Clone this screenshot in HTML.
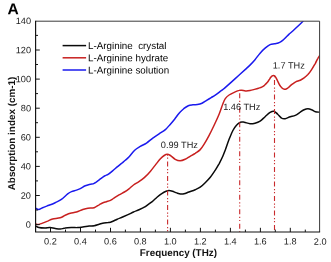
<!DOCTYPE html>
<html><head><meta charset="utf-8"><style>
html,body{margin:0;padding:0;background:#fff;}
svg{display:block;font-family:"Liberation Sans",sans-serif;will-change:transform;text-rendering:geometricPrecision;}
</style></head><body>
<svg width="331" height="262" viewBox="0 0 331 262">
<rect width="331" height="262" fill="#fff"/>
<defs><clipPath id="cp"><rect x="35.6" y="21.2" width="284" height="210.8"/></clipPath></defs>
<g fill="none" stroke-linejoin="round" stroke-linecap="butt" stroke-width="1.5" clip-path="url(#cp)">
<path stroke="#1a1aee" d="M35.5 208.2 C36.0 208.4 37.6 209.6 38.8 209.5 C40.0 209.4 40.9 208.4 42.6 207.7 C44.3 207.0 46.8 206.1 48.9 205.3 C51.0 204.5 53.1 203.7 55.2 202.7 C57.3 201.7 59.3 200.9 61.4 199.4 C63.5 197.9 66.0 195.2 67.7 193.9 C69.4 192.6 70.0 192.2 71.5 191.6 C73.0 191.0 75.0 190.6 76.5 190.1 C78.0 189.6 78.8 189.3 80.3 188.6 C81.8 187.9 83.6 186.5 85.3 185.8 C87.0 185.1 88.9 184.7 90.4 184.3 C91.9 183.9 92.7 184.1 94.2 183.3 C95.7 182.6 97.5 181.0 99.2 179.8 C100.9 178.6 103.0 176.9 104.5 176.0 C106.0 175.1 106.8 175.2 108.1 174.4 C109.4 173.6 111.1 172.2 112.6 170.9 C114.1 169.7 115.7 168.2 117.2 166.9 C118.7 165.6 120.4 164.4 121.7 163.3 C123.0 162.2 124.1 161.4 125.3 160.3 C126.5 159.2 127.3 158.7 128.9 157.0 C130.5 155.3 132.8 152.0 134.7 150.2 C136.6 148.4 138.3 147.6 140.3 146.4 C142.3 145.2 144.4 144.5 146.5 143.1 C148.6 141.7 150.7 139.6 152.8 138.1 C154.9 136.6 157.0 135.2 159.1 133.8 C161.2 132.4 163.6 131.2 165.4 129.6 C167.2 128.0 168.7 126.1 170.2 124.4 C171.7 122.7 173.1 121.1 174.6 119.2 C176.1 117.3 177.6 115.0 179.1 113.2 C180.6 111.5 182.2 110.0 183.7 108.7 C185.2 107.5 186.8 106.4 188.3 105.7 C189.8 105.0 191.4 105.0 192.9 104.8 C194.4 104.6 195.9 104.9 197.4 104.6 C198.9 104.3 200.5 103.9 202.0 103.2 C203.5 102.5 205.1 101.3 206.6 100.4 C208.1 99.5 209.7 98.5 211.2 97.6 C212.7 96.7 214.1 95.9 215.6 94.9 C217.1 93.9 218.7 92.6 220.0 91.6 C221.3 90.6 221.8 90.5 223.5 89.0 C225.2 87.5 228.1 85.1 230.5 82.9 C232.9 80.7 235.6 78.3 238.1 76.0 C240.6 73.7 243.7 70.9 245.7 69.1 C247.7 67.3 248.4 66.7 250.0 65.1 C251.6 63.5 253.3 61.7 255.0 59.7 C256.7 57.7 258.4 55.1 260.1 53.2 C261.8 51.3 263.4 49.6 265.1 48.2 C266.8 46.8 268.5 45.4 270.1 44.6 C271.7 43.9 273.1 44.0 274.5 43.7 C275.9 43.4 277.1 43.4 278.2 43.0 C279.3 42.6 280.1 42.2 281.0 41.6 C281.9 41.0 282.8 40.3 283.7 39.5 C284.6 38.7 285.5 37.7 286.4 36.8 C287.3 35.9 287.7 35.4 289.1 34.1 C290.5 32.9 292.8 31.0 294.6 29.3 C296.4 27.6 298.5 25.6 300.0 24.2 C301.5 22.8 302.8 21.5 303.4 21.0"/>
<path stroke="#c8201f" d="M35.5 223.6 C35.8 223.8 36.5 224.6 37.5 224.6 C38.5 224.6 39.6 224.2 41.3 223.6 C43.0 223.0 45.7 221.8 47.6 221.1 C49.5 220.3 50.5 219.6 52.6 219.1 C54.7 218.6 58.1 218.4 60.2 217.8 C62.3 217.2 63.5 216.1 65.2 215.3 C66.9 214.6 68.4 213.9 70.3 213.3 C72.2 212.8 74.4 212.6 76.5 212.0 C78.6 211.4 80.9 210.1 82.8 209.5 C84.7 208.9 86.0 208.5 87.9 208.2 C89.8 207.9 92.3 208.3 94.2 207.7 C96.1 207.1 97.8 205.6 99.2 204.8 C100.6 204.0 101.3 203.5 102.5 203.0 C103.7 202.5 105.1 202.1 106.3 201.7 C107.5 201.3 108.7 201.1 109.9 200.6 C111.1 200.1 112.1 199.3 113.6 198.4 C115.1 197.5 117.2 196.0 119.0 194.9 C120.8 193.8 122.7 193.0 124.4 192.0 C126.1 191.0 127.5 190.0 129.0 188.8 C130.5 187.6 131.8 186.2 133.5 185.0 C135.2 183.8 137.1 182.8 138.9 181.6 C140.7 180.4 142.4 179.3 144.3 177.6 C146.2 175.9 148.5 173.5 150.3 171.4 C152.1 169.3 153.6 167.2 155.3 165.1 C157.0 163.0 158.9 160.4 160.4 158.8 C161.9 157.2 163.1 156.2 164.2 155.5 C165.3 154.8 166.2 154.3 167.2 154.3 C168.2 154.3 169.1 154.7 170.4 155.5 C171.7 156.3 173.6 158.4 175.2 159.3 C176.8 160.2 178.4 160.8 180.1 160.8 C181.8 160.8 183.4 160.1 185.1 159.3 C186.8 158.6 188.4 157.3 190.1 156.3 C191.8 155.3 193.5 154.4 195.2 153.3 C196.8 152.2 198.5 151.4 200.0 149.9 C201.5 148.4 202.5 146.8 204.0 144.4 C205.5 142.0 207.3 138.8 209.0 135.6 C210.7 132.4 212.3 129.1 214.0 125.5 C215.7 121.9 217.6 117.8 219.1 114.2 C220.6 110.6 221.8 106.7 222.8 104.1 C223.8 101.5 224.2 100.1 225.3 98.6 C226.4 97.1 227.6 96.0 229.1 95.0 C230.6 94.0 232.5 93.2 234.2 92.4 C235.9 91.6 237.9 90.8 239.2 90.4 C240.4 90.0 240.6 90.1 241.7 90.2 C242.8 90.3 244.1 90.9 245.5 91.0 C246.9 91.1 248.5 90.9 250.0 90.6 C251.5 90.3 253.1 89.8 254.5 89.4 C255.9 89.0 257.3 88.6 258.5 88.2 C259.7 87.8 260.7 87.6 261.7 87.1 C262.7 86.6 263.6 86.0 264.5 85.3 C265.4 84.5 266.4 83.5 267.2 82.6 C268.0 81.7 268.6 80.6 269.2 79.7 C269.8 78.8 270.3 78.0 270.8 77.3 C271.3 76.6 271.8 76.1 272.2 75.8 C272.6 75.5 273.1 75.4 273.5 75.4 C273.9 75.4 274.4 75.5 274.8 76.0 C275.2 76.5 275.8 77.3 276.2 78.1 C276.6 78.9 277.1 79.9 277.5 80.8 C277.9 81.7 278.4 82.7 278.9 83.6 C279.4 84.5 280.0 85.6 280.6 86.4 C281.2 87.2 282.0 88.0 282.6 88.5 C283.2 89.0 283.9 89.1 284.5 89.2 C285.1 89.3 285.5 89.3 286.2 89.0 C286.9 88.7 287.8 88.1 288.5 87.5 C289.2 86.9 289.9 86.1 290.7 85.4 C291.5 84.7 292.6 83.9 293.5 83.3 C294.4 82.7 295.1 82.1 296.2 81.6 C297.3 81.1 299.0 80.8 300.3 80.2 C301.6 79.6 302.8 78.8 304.1 77.9 C305.4 77.0 306.6 76.0 307.9 74.6 C309.1 73.2 310.4 71.5 311.6 69.6 C312.9 67.7 314.3 65.2 315.4 63.3 C316.4 61.4 317.1 59.6 317.9 58.3 C318.6 56.9 319.6 55.7 319.9 55.2"/>
<path stroke="#0a0a0a" d="M35.5 225.8 C36.0 226.1 37.2 227.1 38.8 227.4 C40.4 227.8 43.2 227.9 45.1 227.9 C47.0 227.9 48.4 227.5 50.1 227.6 C51.8 227.7 53.5 228.2 55.2 228.4 C56.9 228.7 58.5 229.2 60.2 229.1 C61.9 229.0 63.3 228.3 65.2 228.1 C67.1 227.8 69.4 227.7 71.5 227.6 C73.6 227.5 75.9 227.7 77.8 227.6 C79.7 227.5 80.9 227.2 82.8 226.9 C84.7 226.7 87.2 226.3 89.1 226.1 C91.0 225.9 92.5 226.1 94.2 225.8 C95.9 225.5 97.8 224.7 99.2 224.3 C100.6 223.9 101.2 223.5 102.7 223.2 C104.2 222.9 106.6 222.8 108.1 222.6 C109.6 222.3 110.2 222.3 111.7 221.7 C113.2 221.1 115.4 220.0 117.2 219.2 C119.0 218.4 120.8 217.8 122.6 217.0 C124.4 216.2 126.2 215.4 128.0 214.6 C129.8 213.8 131.7 212.8 133.5 212.0 C135.3 211.2 137.1 210.6 138.9 209.8 C140.7 209.0 142.8 208.1 144.3 207.2 C145.8 206.3 146.7 205.5 148.0 204.6 C149.3 203.7 150.6 202.9 152.2 201.6 C153.8 200.3 155.7 198.3 157.3 197.0 C158.9 195.7 160.4 194.5 161.8 193.6 C163.2 192.7 164.3 192.0 165.5 191.5 C166.7 191.0 167.8 190.6 169.0 190.6 C170.2 190.6 171.2 190.9 172.5 191.3 C173.8 191.7 175.4 192.5 176.7 192.9 C178.0 193.3 179.3 193.8 180.5 193.9 C181.7 194.1 182.6 194.1 184.0 193.8 C185.4 193.5 187.0 192.7 188.9 192.0 C190.8 191.3 193.3 190.5 195.2 189.7 C197.1 188.9 198.5 188.4 200.2 187.2 C201.9 186.0 203.5 184.4 205.2 182.7 C206.9 181.0 208.6 179.3 210.3 177.2 C212.0 175.1 213.8 172.3 215.3 170.1 C216.8 167.9 217.8 166.1 219.1 163.8 C220.3 161.5 221.8 158.6 222.8 156.3 C223.8 154.0 224.2 152.8 225.3 150.0 C226.4 147.2 227.8 142.6 229.1 139.3 C230.4 136.1 231.6 132.9 232.9 130.5 C234.2 128.1 235.4 126.4 236.7 125.0 C237.9 123.6 239.2 122.7 240.4 122.2 C241.7 121.7 242.6 122.0 244.2 122.2 C245.8 122.5 248.2 123.5 250.0 123.7 C251.8 123.9 253.3 123.6 255.0 123.2 C256.7 122.8 258.4 122.3 260.1 121.2 C261.8 120.1 263.4 118.2 265.1 116.7 C266.8 115.2 268.6 113.3 270.1 112.4 C271.6 111.5 272.6 110.9 273.9 111.2 C275.2 111.5 276.4 113.1 277.7 114.2 C278.9 115.3 280.1 117.2 281.4 118.0 C282.6 118.8 283.7 118.9 285.2 118.7 C286.7 118.5 288.6 117.2 290.3 116.7 C292.0 116.2 293.6 116.2 295.3 115.4 C297.0 114.7 298.8 113.2 300.3 112.2 C301.8 111.2 302.8 110.3 304.1 109.7 C305.4 109.1 306.6 108.7 307.9 108.7 C309.1 108.7 310.4 109.2 311.6 109.7 C312.9 110.2 314.0 111.3 315.4 111.7 C316.8 112.1 319.1 112.1 319.9 112.2"/>
</g>
<g stroke="#c92a2c" stroke-width="1.1" stroke-dasharray="5 2.5 1.2 1.9 1.2 2.7" fill="none">
<line x1="167.6" y1="154.6" x2="167.6" y2="232" stroke-dashoffset="7.6"/>
<line x1="239.7" y1="90.3" x2="239.7" y2="232" stroke-dashoffset="11.5"/>
<line x1="274.5" y1="76" x2="274.5" y2="232" stroke-dashoffset="10.5"/>
</g>
<path d="M35.6 21.2 H319.6 V232.0" fill="none" stroke="#3a3a3a" stroke-width="1"/><path d="M35.6 20.7 V232.0 H320.1" fill="none" stroke="#111" stroke-width="1.15"/>
<g stroke="#151515" stroke-width="1"><line x1="50.5" y1="232.0" x2="50.5" y2="227.8"/><line x1="65.5" y1="232.0" x2="65.5" y2="229.6"/><line x1="80.5" y1="232.0" x2="80.5" y2="227.8"/><line x1="95.5" y1="232.0" x2="95.5" y2="229.6"/><line x1="110.5" y1="232.0" x2="110.5" y2="227.8"/><line x1="125.4" y1="232.0" x2="125.4" y2="229.6"/><line x1="140.4" y1="232.0" x2="140.4" y2="227.8"/><line x1="155.4" y1="232.0" x2="155.4" y2="229.6"/><line x1="170.4" y1="232.0" x2="170.4" y2="227.8"/><line x1="185.4" y1="232.0" x2="185.4" y2="229.6"/><line x1="200.4" y1="232.0" x2="200.4" y2="227.8"/><line x1="215.4" y1="232.0" x2="215.4" y2="229.6"/><line x1="230.4" y1="232.0" x2="230.4" y2="227.8"/><line x1="245.4" y1="232.0" x2="245.4" y2="229.6"/><line x1="260.4" y1="232.0" x2="260.4" y2="227.8"/><line x1="275.3" y1="232.0" x2="275.3" y2="229.6"/><line x1="290.3" y1="232.0" x2="290.3" y2="227.8"/><line x1="305.3" y1="232.0" x2="305.3" y2="229.6"/><line x1="35.6" y1="224.6" x2="39.8" y2="224.6"/><line x1="35.6" y1="210.0" x2="38.0" y2="210.0"/><line x1="35.6" y1="195.5" x2="39.8" y2="195.5"/><line x1="35.6" y1="180.9" x2="38.0" y2="180.9"/><line x1="35.6" y1="166.4" x2="39.8" y2="166.4"/><line x1="35.6" y1="151.8" x2="38.0" y2="151.8"/><line x1="35.6" y1="137.3" x2="39.8" y2="137.3"/><line x1="35.6" y1="122.7" x2="38.0" y2="122.7"/><line x1="35.6" y1="108.2" x2="39.8" y2="108.2"/><line x1="35.6" y1="93.6" x2="38.0" y2="93.6"/><line x1="35.6" y1="79.1" x2="39.8" y2="79.1"/><line x1="35.6" y1="64.5" x2="38.0" y2="64.5"/><line x1="35.6" y1="50.0" x2="39.8" y2="50.0"/><line x1="35.6" y1="35.4" x2="38.0" y2="35.4"/></g>
<g font-size="9.2px" fill="#1a1a1a" transform="rotate(0.05 165 130)"><text x="50.5" y="244.5" text-anchor="middle">0.2</text><text x="80.5" y="244.5" text-anchor="middle">0.4</text><text x="110.5" y="244.5" text-anchor="middle">0.6</text><text x="140.4" y="244.5" text-anchor="middle">0.8</text><text x="170.4" y="244.5" text-anchor="middle">1.0</text><text x="200.4" y="244.5" text-anchor="middle">1.2</text><text x="230.4" y="244.5" text-anchor="middle">1.4</text><text x="260.4" y="244.5" text-anchor="middle">1.6</text><text x="290.3" y="244.5" text-anchor="middle">1.8</text><text x="320.3" y="244.5" text-anchor="middle">2.0</text><text x="31.0" y="227.9" text-anchor="end">0</text><text x="31.0" y="198.8" text-anchor="end">20</text><text x="31.0" y="169.7" text-anchor="end">40</text><text x="31.0" y="140.6" text-anchor="end">60</text><text x="31.0" y="111.5" text-anchor="end">80</text><text x="31.0" y="82.4" text-anchor="end">100</text><text x="31.0" y="53.3" text-anchor="end">120</text><text x="31.0" y="24.2" text-anchor="end">140</text>
<text x="160.8" y="148.1">0.99 THz</text>
<text x="223.2" y="109.9">1.46 THz</text>
<text x="272.7" y="68.4">1.7 THz</text>
</g>
<g stroke-width="1.5"><line x1="62.6" y1="45.6" x2="86.1" y2="45.6" stroke="#0a0a0a"/><line x1="62.6" y1="57.8" x2="86.1" y2="57.8" stroke="#c8201f"/><line x1="62.6" y1="70" x2="86.1" y2="70" stroke="#1a1aee"/></g>
<g font-size="9.8px" fill="#000" style="white-space:pre" transform="rotate(0.05 165 130)">
<text x="88" y="49.1" xml:space="preserve">L-Arginine  crystal</text>
<text x="88" y="61.3">L-Arginine hydrate</text>
<text x="88" y="73.5">L-Arginine solution</text>
</g>
<text x="178.5" y="256" transform="rotate(0.05 165 130)" text-anchor="middle" font-size="9.85px" font-weight="bold" fill="#111">Frequency (THz)</text>
<text transform="translate(15.3 133.5) rotate(-90)" text-anchor="middle" font-size="9.9px" font-weight="bold" fill="#111">Absorption index (cm-1)</text>
<text x="7.4" y="14.5" transform="rotate(0.05 165 130)" font-size="15.6px" font-weight="bold" fill="#000">A</text>
</svg>
</body></html>
